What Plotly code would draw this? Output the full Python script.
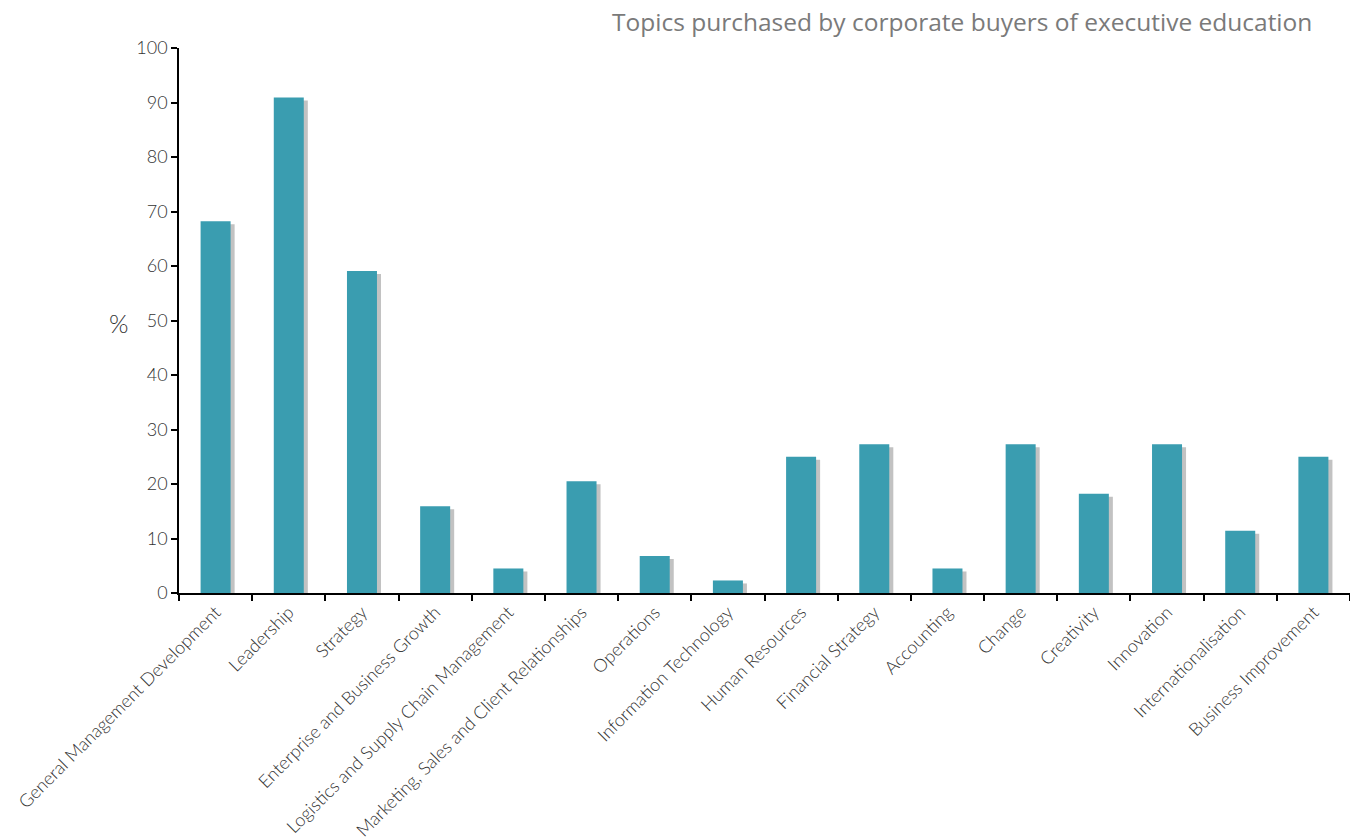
import plotly.graph_objects as go

topics = [
    "General Management Development", "Leadership", "Strategy",
    "Enterprise and Business Growth", "Logistics and Supply Chain Management",
    "Marketing, Sales and Client Relationships", "Operations",
    "Information Technology", "Human Resources", "Financial Strategy",
    "Accounting", "Change", "Creativity", "Innovation",
    "Internationalisation", "Business Improvement",
]
percent = [68.2, 90.9, 59.1, 15.9, 4.5, 20.5, 6.8, 2.3,
           25.0, 27.3, 4.5, 27.3, 18.2, 27.3, 11.4, 25.0]
y_ticks = list(range(0, 101, 10))

TEAL = "#3a9db0"
SHADOW = "#c2c2c2"
FONT = "Lato"
BAR_W = 0.41

fig = go.Figure()

# drop shadow: same bars, nudged right and drawn on a slightly shifted hidden axis
fig.add_trace(go.Bar(
    x=topics, y=percent, yaxis="y", marker=dict(color=SHADOW, line=dict(width=0)),
    width=BAR_W, offset=-BAR_W / 2 + 0.055, hoverinfo="skip", showlegend=False,
))
fig.add_trace(go.Bar(
    x=topics, y=percent, yaxis="y2", marker=dict(color=TEAL, line=dict(width=0)),
    width=BAR_W, offset=-BAR_W / 2, showlegend=False,
))

fig.update_layout(
    width=1350, height=839,
    margin=dict(l=179, r=0, t=48, b=246),
    plot_bgcolor="white", paper_bgcolor="white",
    barmode="overlay",
    font=dict(family=FONT, color="#333333"),
    xaxis=dict(
        type="category", tickson="boundaries", ticks="outside", ticklen=6,
        tickcolor="black", tickwidth=1.5, showline=True, linecolor="black",
        linewidth=1.5, tickangle=-45, showgrid=False,
        tickfont=dict(family=FONT, size=18, color="#333333", weight=300),
    ),
    yaxis=dict(range=[0.55, 100.55], visible=False, showgrid=False),
    yaxis2=dict(
        overlaying="y", side="left", range=[0, 100], tickvals=y_ticks,
        ticks="outside", ticklen=6, tickcolor="black", tickwidth=1.5,
        showline=True, linecolor="black", linewidth=1.5, showgrid=False,
        zeroline=False,
        tickfont=dict(family=FONT, size=18, color="#333333", weight=300),
    ),
    annotations=[
        dict(text="Topics purchased by corporate buyers of executive education",
             xref="paper", yref="paper", x=(1314 - 179) / 1171, y=1,
             xanchor="right", yanchor="bottom", yshift=8, showarrow=False,
             font=dict(family="Open Sans", size=24.5, color="#7a7a7a")),
        dict(text="%", xref="paper", yref="paper", x=0, y=0.5,
             xanchor="right", yanchor="middle", xshift=-48, yshift=-2,
             showarrow=False,
             font=dict(family=FONT, size=25, color="#333333", weight=300)),
    ],
)

fig.write_html("out.html")
